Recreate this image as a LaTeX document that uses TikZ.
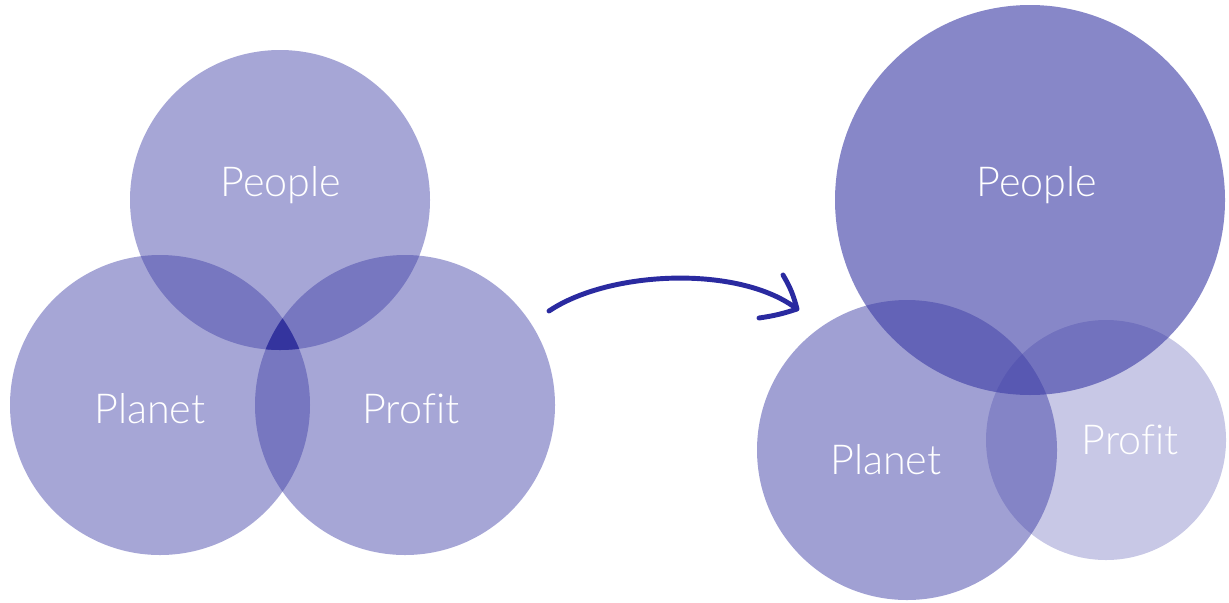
\documentclass[tikz,border=0pt]{standalone}
\usepackage{fontspec}
\setmainfont{Lato}[UprightFont=* Light, Ligatures=NoCommon]
\definecolor{venn}{RGB}{62,62,166}
\definecolor{coreblue}{RGB}{52,52,158}
\definecolor{arrowblue}{RGB}{42,42,160}
\begin{document}
\begin{tikzpicture}[x=0.02cm, y=-0.02cm,
    vset/.style={fill=venn, fill opacity=#1}, vset/.default=0.46,
    vtext/.style={text=white, font=\fontsize{23.5}{28}\selectfont, anchor=base}]
  \useasboundingbox (0, 0) rectangle (1229, 602);

  % before: three equal circles
  \fill[vset] (280, 200) circle (150);
  \fill[vset] (160, 405) circle (150);
  \fill[vset] (405, 405) circle (150);
  \begin{scope}
    \clip (280, 200) circle (150);
    \clip (160, 405) circle (150);
    \fill[coreblue] (405, 405) circle (150);
  \end{scope}
  \node[vtext] (people1) at (281, 196) {People};
  \node[vtext] (planet1) at (150, 423) {Planet};
  \node[vtext] (profit1) at (411, 423) {Profit};

  % after: people grows, profit shrinks
  \fill[vset=0.49] (907, 450) circle (150);
  \fill[vset=0.285] (1106, 440) circle (120);
  \fill[vset=0.62] (1030, 200) circle (195);
  \node[vtext] (people2) at (1037, 196) {People};
  \node[vtext] (planet2) at (886, 474) {Planet};
  \node[vtext] (profit2) at (1130, 454) {Profit};

  % hand drawn arrow
  \coordinate (from) at (549, 311);
  \coordinate (tip) at (797, 309);
  \draw[arrowblue, line width=2.8pt, line cap=round, line join=round]
    (from) .. controls (610, 270) and (740, 265) .. (tip)
    (783, 275) to[bend left=8] (tip) to[bend left=5] (759, 318);
\end{tikzpicture}
\end{document}
